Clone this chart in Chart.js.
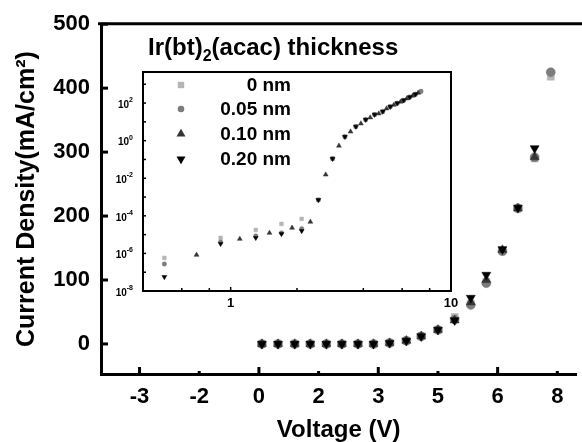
<!DOCTYPE html>
<html>
<head>
<meta charset="utf-8">
<script src="https://cdn.jsdelivr.net/npm/chart.js@4/dist/chart.umd.min.js"></script>
<style>
  body { margin: 0; background: #fff; }
  #wrap { position: relative; width: 582px; height: 442px; }
  #wrap canvas { position: absolute; left: 0; top: 0; }
</style>
</head>
<body>
<div id="wrap">
  <canvas id="main" width="582" height="442"></canvas>
  <canvas id="inset" width="582" height="442"></canvas>
</div>
<script>
// main plot: x in axis units (tick slots), tick labels as printed
var xTickPos = [0, 1, 2, 3, 4, 5, 6, 7];
var xTickLabels = ["-3", "-2", "0", "2", "3", "5", "6", "8"];
var yTickPos = [0, 100, 200, 300, 400, 500];

var voltage = [2.05, 2.32, 2.60, 2.86, 3.13, 3.39, 3.66, 3.92, 4.19, 4.47, 4.72, 5.00, 5.28, 5.55, 5.81, 6.08, 6.34, 6.62, 6.89];
var j0nm   = [0, 0, 0, 0, 0, 0, 0, 0, 1.5, 5, 12, 22, 42, 63, 97, 147, 212, 290, 418];
var j005nm = [0, 0, 0, 0, 0, 0, 0, 0, 1.5, 5, 12, 22, 38, 61, 95, 145, 212, 292, 425];
var j010nm = [0, 0, 0, 0, 0, 0, 0, 0, 1.5, 5, 12, 22, 37, 65, 100, 147, 212, 292, null];
var j020nm = [0, 0, 0, 0, 0, 0, 0, 0, 1.5, 5, 12, 22, 37, 72, 108, 148, 213, 306, null];

// inset (log-log)
var insetV = [0.5, 0.9, 1.3, 1.7, 2.1, 2.5, 2.9, 3.3, 3.7, 4.1, 4.5, 4.9, 5.3, 5.7, 6.1, 6.5, 6.9, 7.3];
var insetV010 = [0.7, 1.1, 1.5, 1.9, 2.3, 2.7, 3.1, 3.5, 3.9, 4.3, 4.7, 5.1, 5.5, 5.9, 6.3, 6.7, 7.1];
var ins0nm   = [5.75e-7, 6.76e-6, 1.78e-5, 3.72e-5, 6.92e-5, 7.08e-4, 0.110, 1.62, 5.62, 13.2, 24.5, 35.5, 64.6, 97.7, 141, 209, 295, 407];
var ins005nm = [2.75e-7, 4.07e-6, 8.51e-6, 1.23e-5, 2.04e-5, 7.08e-4, 0.110, 1.62, 5.62, 13.2, 24.5, 35.5, 64.6, 97.7, 141, 209, 295, 425];
var ins010nm = [8.32e-7, 5.89e-6, 1.23e-5, 2.29e-5, 4.79e-5, 0.0155, 0.537, 3.02, 8.13, 17.0, 27.5, 51.3, 79.4, 117, 174, 245, 347];
var ins020nm = [5.62e-8, 3.24e-6, 6.76e-6, 1.10e-5, 1.58e-5, 7.08e-4, 0.110, 1.62, 5.62, 13.2, 24.5, 35.5, 64.6, 97.7, 141, 209, 295];
var insetXTicks = [0.6, 0.8, 1, 2, 4, 6, 8, 10];
var insetXLabels = [1, 10];
var insetYExp = [-8, -7, -6, -5, -4, -3, -2, -1, 0, 1, 2, 3];

var seriesNames = ["0 nm", "0.05 nm", "0.10 nm", "0.20 nm"];
var seriesColors = ["#b4b4b4", "#7c7c7c", "#353535", "#000000"];
var seriesStyles = ["rect", "circle", "triangle", "triangle"];
var seriesRot = [0, 0, 0, 180];

var FONT = "'Liberation Sans', Arial, sans-serif";
Chart.defaults.font.family = FONT;
Chart.defaults.color = "#000";

function pts(xs, ys) {
    var out = [];
    for (var i = 0; i < xs.length; i++) {
        if (ys[i] != null) out.push({ x: xs[i], y: ys[i] });
    }
    return out;
}

function makeSets(xList, yList, radii) {
    return yList.map(function (ys, i) {
        return {
            label: seriesNames[i],
            data: pts(xList[i], ys),
            pointStyle: seriesStyles[i],
            pointRotation: seriesRot[i],
            pointRadius: radii[i],
            backgroundColor: seriesColors[i],
            borderColor: seriesColors[i],
            borderWidth: 0.5,
            order: 3 - i
        };
    });
}

// inward tick marks + top frame for the main plot
var mainFrame = {
    id: "mainFrame",
    afterDraw: function (chart) {
        var ctx = chart.ctx, a = chart.chartArea;
        var sx = chart.scales.x, sy = chart.scales.y;
        ctx.save();
        ctx.strokeStyle = "#000";
        ctx.lineWidth = 3;
        ctx.beginPath();
        ctx.moveTo(a.left - 3, a.top - 0.5);
        ctx.lineTo(chart.width, a.top - 0.5);
        ctx.stroke();
        xTickPos.forEach(function (v, i) {
            var px = sx.getPixelForValue(v);
            var len = (i % 2 === 0) ? 7 : 3;
            ctx.beginPath();
            ctx.moveTo(px, a.bottom);
            ctx.lineTo(px, a.bottom - len);
            ctx.stroke();
        });
        yTickPos.forEach(function (v) {
            var py = sy.getPixelForValue(v);
            ctx.beginPath();
            ctx.moveTo(a.left, py);
            ctx.lineTo(a.left + 7, py);
            ctx.stroke();
        });
        ctx.restore();
    }
};

new Chart(document.getElementById("main"), {
    type: "scatter",
    data: {
        datasets: makeSets([voltage, voltage, voltage, voltage], [j0nm, j005nm, j010nm, j020nm], [5, 4.5, 5.2, 5.2])
    },
    options: {
        responsive: false,
        animation: false,
        devicePixelRatio: 1,
        layout: { padding: { top: 23, right: 0, bottom: 0, left: 0 } },
        plugins: { legend: { display: false }, tooltip: { enabled: false } },
        scales: {
            x: {
                type: "linear",
                bounds: "data",
                min: -0.646,
                max: 7.318,
                afterBuildTicks: function (s) { s.ticks = xTickPos.map(function (v) { return { value: v }; }); },
                afterFit: function (s) { s.height = 68; },
                grid: { display: false, drawTicks: false },
                border: { display: true, color: "#000", width: 3 },
                ticks: {
                    autoSkip: false, maxRotation: 0, padding: 10, color: "#000",
                    font: { size: 22, weight: "bold" },
                    callback: function (v, i) { return xTickLabels[i]; }
                },
                title: {
                    display: true, text: "Voltage (V)", color: "#000", padding: 0,
                    font: { size: 24, weight: "bold", lineHeight: 1 }
                }
            },
            y: {
                type: "linear",
                bounds: "data",
                min: -47,
                max: 500,
                afterBuildTicks: function (s) { s.ticks = yTickPos.map(function (v) { return { value: v }; }); },
                afterFit: function (s) { s.width = 101; },
                grid: { display: false, drawTicks: false },
                border: { display: true, color: "#000", width: 3 },
                ticks: { padding: 11, color: "#000", font: { size: 22, weight: "bold" } },
                title: {
                    display: true, text: "Current Density(mA/cm²)", color: "#000",
                    padding: { top: 15, bottom: 0 },
                    font: { size: 25, weight: "bold", lineHeight: 1 }
                }
            }
        }
    },
    plugins: [mainFrame]
});

function drawMarker(ctx, style, rot, x, y, r) {
    ctx.beginPath();
    if (style === "rect") {
        var s = r * Math.SQRT1_2;
        ctx.rect(x - s, y - s, 2 * s, 2 * s);
    } else if (style === "circle") {
        ctx.arc(x, y, r, 0, Math.PI * 2);
    } else {
        var a0 = rot * Math.PI / 180;
        for (var k = 0; k < 3; k++) {
            var a = a0 + k * 2 * Math.PI / 3;
            var px = x + Math.sin(a) * r, py = y - Math.cos(a) * r;
            if (k === 0) ctx.moveTo(px, py); else ctx.lineTo(px, py);
        }
        ctx.closePath();
    }
    ctx.fill();
}

var insetDeco = {
    id: "insetDeco",
    beforeDatasetsDraw: function (chart) {
        var ctx = chart.ctx, a = chart.chartArea;
        ctx.save();
        ctx.fillStyle = "#fff";
        ctx.fillRect(a.left, a.top, a.right - a.left, a.bottom - a.top);
        ctx.restore();
    },
    afterDraw: function (chart) {
        var ctx = chart.ctx, a = chart.chartArea;
        var sx = chart.scales.x, sy = chart.scales.y;
        ctx.save();
        ctx.strokeStyle = "#000";
        ctx.fillStyle = "#000";
        ctx.lineWidth = 2;
        ctx.strokeRect(a.left, a.top, a.right - a.left, a.bottom - a.top);

        ctx.lineWidth = 1.5;
        insetXTicks.forEach(function (v) {
            var px = sx.getPixelForValue(v);
            var len = (insetXLabels.indexOf(v) >= 0) ? 4 : 3;
            ctx.beginPath();
            ctx.moveTo(px, a.bottom);
            ctx.lineTo(px, a.bottom - len);
            ctx.stroke();
        });
        ctx.font = "bold 13px " + FONT;
        ctx.textAlign = "center";
        ctx.textBaseline = "middle";
        insetXLabels.forEach(function (v) {
            ctx.fillText(String(v), sx.getPixelForValue(v), a.bottom + 12);
        });

        insetYExp.forEach(function (e) {
            var py = sy.getPixelForValue(Math.pow(10, e));
            if (py < a.top + 1) return;
            ctx.beginPath();
            ctx.moveTo(a.left, py);
            ctx.lineTo(a.left + 3, py);
            ctx.stroke();
            if (e % 2 === 0 && e <= 2) {
                var expTxt = String(e);
                ctx.font = "bold 7px " + FONT;
                var ew = ctx.measureText(expTxt).width;
                var right = a.left - 10;
                ctx.textAlign = "left";
                ctx.textBaseline = "middle";
                ctx.fillText(expTxt, right - ew, py - 3);
                ctx.font = "bold 10px " + FONT;
                ctx.textAlign = "right";
                ctx.fillText("10", right - ew, py + 2);
            }
        });

        // legend
        ctx.font = "bold 19px " + FONT;
        ctx.textBaseline = "middle";
        ctx.textAlign = "right";
        var legY = [85, 109, 134, 159];
        var legR = [4.5, 3.3, 5.2, 5.2];
        seriesNames.forEach(function (name, i) {
            ctx.fillStyle = seriesColors[i];
            drawMarker(ctx, seriesStyles[i], seriesRot[i], 181, legY[i], legR[i]);
            ctx.fillStyle = "#000";
            ctx.fillText(name, 291, legY[i] + 1);
        });

        // title with subscript
        ctx.textAlign = "left";
        ctx.textBaseline = "alphabetic";
        ctx.font = "bold 24px " + FONT;
        var x0 = 148, base = 55;
        ctx.fillText("Ir(bt)", x0, base);
        x0 += ctx.measureText("Ir(bt)").width;
        ctx.font = "bold 16px " + FONT;
        ctx.fillText("2", x0, base + 6);
        x0 += ctx.measureText("2").width;
        ctx.font = "bold 24px " + FONT;
        ctx.fillText("(acac) thickness", x0, base);
        ctx.restore();
    }
};

new Chart(document.getElementById("inset"), {
    type: "scatter",
    data: {
        datasets: makeSets([insetV, insetV, insetV010, insetV], [ins0nm, ins005nm, ins010nm, ins020nm], [2.6, 2.2, 2.8, 2.8])
    },
    options: {
        responsive: false,
        animation: false,
        devicePixelRatio: 1,
        layout: { padding: { top: 72, right: 131, bottom: 151, left: 0 } },
        plugins: { legend: { display: false }, tooltip: { enabled: false } },
        scales: {
            x: {
                type: "logarithmic",
                bounds: "data",
                min: 0.4,
                max: 10,
                afterFit: function (s) { s.height = 0; },
                grid: { display: false, drawTicks: false },
                border: { display: false },
                ticks: { display: false }
            },
            y: {
                type: "logarithmic",
                bounds: "data",
                min: 1e-8,
                max: 4500,
                afterFit: function (s) { s.width = 143; },
                grid: { display: false, drawTicks: false },
                border: { display: false },
                ticks: { display: false }
            }
        }
    },
    plugins: [insetDeco]
});
</script>
</body>
</html>
